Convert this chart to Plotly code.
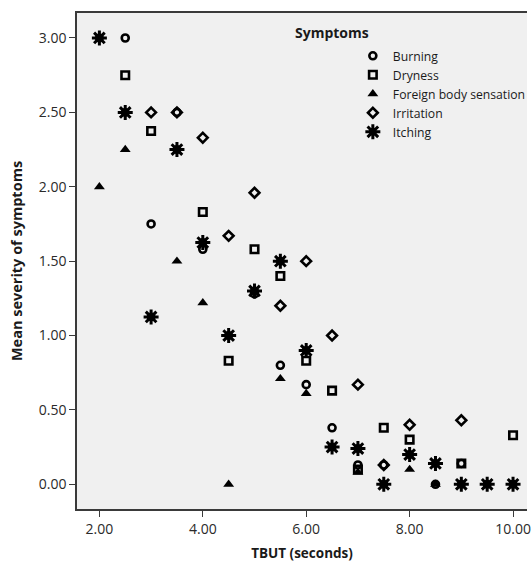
import plotly.graph_objects as go

# ---- data ----
burning_x = [2.5, 3.0, 3.5, 4.0, 5.0, 5.5, 6.0, 6.5, 7.0, 7.5, 8.5, 9.0]
burning_y = [3.00, 1.75, 2.50, 1.58, 1.28, 0.80, 0.67, 0.38, 0.13, 0.13, 0.00, 0.14]

dryness_x = [2.5, 3.0, 4.0, 4.5, 5.0, 5.5, 6.0, 6.5, 7.0, 7.5, 8.0, 9.0, 10.0]
dryness_y = [2.75, 2.375, 1.83, 0.83, 1.58, 1.40, 0.83, 0.63, 0.10, 0.38, 0.30, 0.14, 0.33]

foreign_x = [2.0, 2.5, 3.5, 4.0, 4.5, 5.5, 6.0, 7.0, 8.0, 8.5]
foreign_y = [2.00, 2.25, 1.50, 1.22, 0.00, 0.71, 0.61, 0.08, 0.10, 0.00]

irritation_x = [3.0, 3.5, 4.0, 4.5, 5.0, 5.5, 6.0, 6.5, 7.0, 7.5, 8.0, 9.0]
irritation_y = [2.50, 2.50, 2.33, 1.67, 1.96, 1.20, 1.50, 1.00, 0.67, 0.13, 0.40, 0.43]

itching_x = [2.0, 2.5, 3.0, 3.5, 4.0, 4.5, 5.0, 5.5, 6.0, 6.5, 7.0, 7.5, 8.0, 8.5, 9.0, 9.5, 10.0]
itching_y = [3.00, 2.50, 1.125, 2.25, 1.625, 1.00, 1.30, 1.50, 0.90, 0.25, 0.24, 0.00, 0.20, 0.14, 0.00, 0.00, 0.00]

x_ticks = [2, 4, 6, 8, 10]
y_ticks = [0, 0.5, 1.0, 1.5, 2.0, 2.5, 3.0]

FONT = "Open Sans"
BLACK = "#000000"

fig = go.Figure()

fig.add_trace(go.Scatter(
    x=burning_x, y=burning_y, mode="markers", name="Burning",
    marker=dict(symbol="circle-open", size=7, color=BLACK, line=dict(width=2.6, color=BLACK))))
fig.add_trace(go.Scatter(
    x=dryness_x, y=dryness_y, mode="markers", name="Dryness",
    marker=dict(symbol="square-open", size=7.5, color=BLACK, line=dict(width=2.6, color=BLACK))))
fig.add_trace(go.Scatter(
    x=foreign_x, y=foreign_y, mode="markers", name="Foreign body sensation",
    marker=dict(symbol="triangle-up", size=9.5, color=BLACK, line=dict(width=0, color=BLACK))))
fig.add_trace(go.Scatter(
    x=irritation_x, y=irritation_y, mode="markers", name="Irritation",
    marker=dict(symbol="diamond-open", size=7.5, color=BLACK, line=dict(width=2.6, color=BLACK))))
fig.add_trace(go.Scatter(
    x=itching_x, y=itching_y, mode="markers", name="Itching", legendgroup="itch",
    marker=dict(symbol="asterisk-open", size=12.5, color=BLACK, line=dict(width=3, color=BLACK))))
fig.add_trace(go.Scatter(
    x=itching_x, y=itching_y, mode="markers", name="Itching", legendgroup="itch",
    showlegend=False, hoverinfo="skip",
    marker=dict(symbol="circle", size=9, color=BLACK, line=dict(width=0))))

axis_common = dict(
    showgrid=False, zeroline=False, showline=True, linecolor="#3a3a3a", linewidth=1.5,
    ticks="outside", ticklen=6, tickwidth=1.3, tickcolor="#3a3a3a",
    tickfont=dict(family=FONT, size=14, color="#2a2a2a"),
    tickformat=".2f", ticklabeloverflow="allow",
)

fig.update_xaxes(
    **axis_common, range=[1.567, 10.27], tickvals=x_ticks, mirror=True,
    title=dict(text="<b>TBUT (seconds)</b>", font=dict(family=FONT, size=13.5, color="#1a1a1a"), standoff=12),
    automargin=False,
)
fig.update_yaxes(
    **axis_common, range=[-0.166, 3.168], tickvals=y_ticks,
    title=dict(text="<b>Mean severity of symptoms</b>", font=dict(family=FONT, size=14.5, color="#1a1a1a"), standoff=13),
    automargin=False,
)

fig.add_annotation(
    text="<b>Symptoms</b>", xref="paper", yref="paper", x=0.48, y=0.96,
    xanchor="left", yanchor="middle", showarrow=False,
    font=dict(family=FONT, size=14, color="#1a1a1a"))

fig.update_layout(
    width=531, height=562,
    margin=dict(l=77, r=0, t=13, b=53),
    paper_bgcolor="white", plot_bgcolor="#f0f0f0",
    showlegend=True,
    legend=dict(x=0.613, y=0.943, xanchor="left", yanchor="top",
                bgcolor="rgba(0,0,0,0)", font=dict(family=FONT, size=12.2, color="#1a1a1a"),
                tracegroupgap=0, itemwidth=30),
    font=dict(family=FONT),
)

fig.write_html("out.html", config={"displayModeBar": False},
               post_script="document.body.style.margin='0';")
